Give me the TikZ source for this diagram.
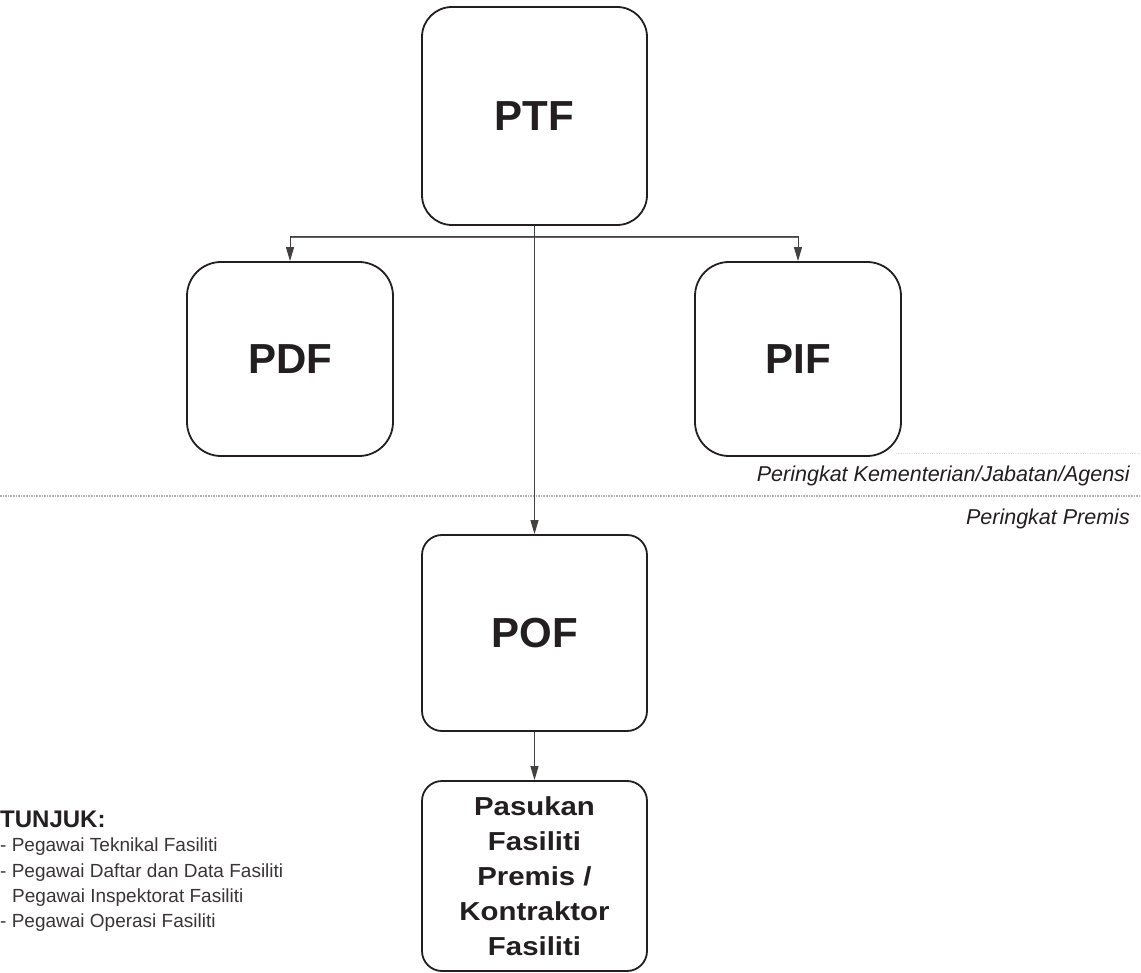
\documentclass[tikz,border=0pt]{standalone}
\usepackage{fontspec}
\setmainfont{Liberation Sans}
\newfontfamily\widesans[FakeStretch=1.13]{Liberation Sans}
\usetikzlibrary{arrows.meta}
\definecolor{ink}{HTML}{231F20}
\begin{document}
\begin{tikzpicture}[x=1pt,y=-1pt,
  box/.style={draw=ink, line width=1.8pt, fill=white, rounded corners=#1, inner sep=0pt, text=ink,
    font=\bfseries\fontsize{42}{46}\selectfont},
  box/.default=30pt,
  arr/.style={draw=ink!85, line width=1pt, -{Triangle[length=14pt,width=8pt]}},
  lvl/.style={anchor=east, text=ink, font=\itshape\fontsize{21.5}{24}\selectfont, inner sep=0pt},
  leg/.style={anchor=west, text=ink!90, font=\fontsize{19}{22}\selectfont, inner sep=0pt}]
\useasboundingbox (0,0) rectangle (1141,973);
% boxes
\node[box, minimum width=225pt, minimum height=218pt] (ptf) at (534.5,116) {PTF};
\node[box=34pt, minimum width=206pt, minimum height=194pt] (pdf) at (290,359) {PDF};
\node[box=34pt, minimum width=206pt, minimum height=194pt] (pif) at (798,359) {PIF};
\node[box=20pt, minimum width=225pt, minimum height=196pt] (pof) at (534.5,633) {POF};
\node[box=20pt, minimum width=225pt, minimum height=190pt, align=center,
  font=\widesans\bfseries\fontsize{26}{35}\selectfont] (pas) at (534.5,876) {Pasukan\\Fasiliti\\Premis /\\Kontraktor\\Fasiliti};
% level separator
\draw[gray!60, line width=1.6pt, densely dotted] (0,496) -- (1141,496);
\draw[gray!25, line width=0.8pt, densely dotted] (896,453) -- (1141,453);
\node[lvl] (l1) at (1130,476) {Peringkat Kementerian/Jabatan/Agensi};
\node[lvl] (l2) at (1130,519) {Peringkat Premis};
% connectors
\coordinate (j) at (ptf.south |- 0,237);
\draw[ink!70, line width=1.6pt] (pdf.north |- j) -- (pif.north |- j);
\draw[arr] (j) -| (pdf.north);
\draw[arr] (j) -| (pif.north);
\draw[arr] (ptf.south) -- (pof.north);
\draw[arr] (pof.south) -- (pas.north);
% legend
\node[anchor=west, text=ink, inner sep=0pt, font=\bfseries\fontsize{24}{28}\selectfont] (tj) at (0,819) {TUNJUK:};
\node[leg] (g1) at (0,847) {- Pegawai Teknikal Fasiliti};
\node[leg] (g2) at (0,873) {- Pegawai Daftar dan Data Fasiliti};
\node[leg] (g3) at (12,898) {Pegawai Inspektorat Fasiliti};
\node[leg] (g4) at (0,923) {- Pegawai Operasi Fasiliti};
\end{tikzpicture}
\end{document}
